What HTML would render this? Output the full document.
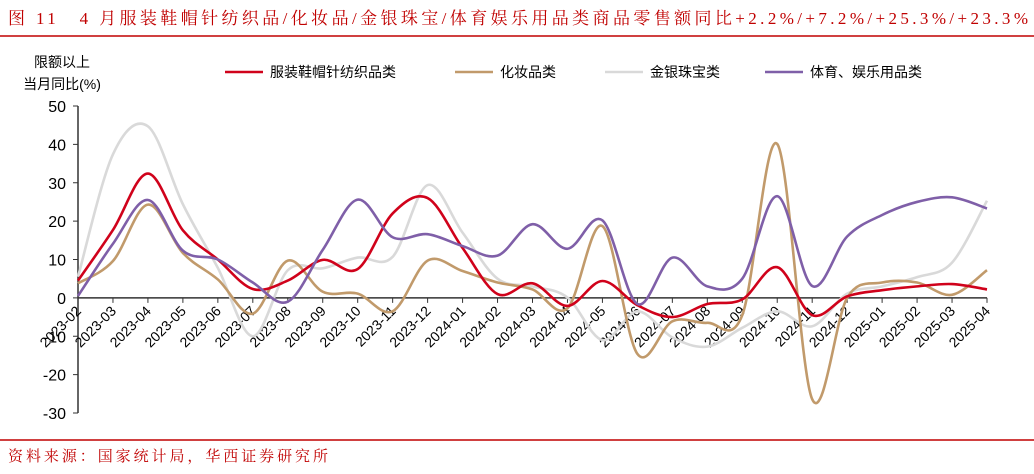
<!DOCTYPE html>
<html><head><meta charset="utf-8"><style>
body{margin:0;background:#fff;}
svg text{font-family:"Liberation Sans","Noto Sans CJK SC",sans-serif;}
svg text.serif{font-family:"Liberation Serif","Noto Serif CJK SC",serif;}
</style></head><body>
<svg id="c" width="1034" height="469" xmlns="http://www.w3.org/2000/svg">
<text class="serif" x="8" y="24" font-size="17" fill="#c00000" textLength="1020" lengthAdjust="spacing">图 11　4 月服装鞋帽针纺织品/化妆品/金银珠宝/体育娱乐用品类商品零售额同比+2.2%/+7.2%/+25.3%/+23.3%</text>
<line x1="0" y1="36" x2="1034" y2="36" stroke="#c00000" stroke-width="1.5"/>
<text x="62" y="67" font-size="14" text-anchor="middle">限额以上</text>
<text x="62" y="89" font-size="14" text-anchor="middle">当月同比(%)</text>
<line x1="0" y1="440" x2="1034" y2="440" stroke="#c00000" stroke-width="1.5"/>
<text class="serif" x="8" y="461" font-size="15" fill="#c00000" textLength="320" lengthAdjust="spacing">资料来源：国家统计局，华西证券研究所</text>
<g id="plot"></g>
</svg>
<script>
const categories=["2023-02","2023-03","2023-04","2023-05","2023-06","2023-07","2023-08","2023-09","2023-10","2023-11","2023-12","2024-01","2024-02","2024-03","2024-04","2024-05","2024-06","2024-07","2024-08","2024-09","2024-10","2024-11","2024-12","2025-01","2025-02","2025-03","2025-04"];
const apparel=[4.5,17.7,32.4,17.6,10,2.3,4.5,9.9,7.5,22,26,13,1,3.8,-2.1,4.4,-1.9,-5,-1.6,-0.4,8,-4.5,0.4,2,3,3.6,2.2];
const cosmetics=[3.8,9.6,24.3,11.7,4.8,-4.1,9.7,1.6,1.1,-3.5,9.7,7,4,2.2,-2.7,18.7,-14.6,-6.1,-6.5,-4.5,40.1,-26.4,0,4,4,0.8,7.2];
const jewelry=[5.5,37.4,44.7,24.4,7.8,-10,7.2,7.7,10.5,10.7,29.4,17,5,3,0.1,-11,-3.5,-10.3,-12.7,-7.8,-3.5,-7.4,1.1,3,5.4,9.2,25.3];
const sports=[0.5,14.1,25.5,12.3,10,4,-1,12.5,25.6,15.8,16.6,13.5,11,19.2,12.8,20.2,-1.6,10.5,3,5,26.5,3.1,16,21.6,25,26.2,23.3];
const yTicks=[50,40,30,20,10,0,-10,-20,-30];
const seriesNames=["服装鞋帽针纺织品类","化妆品类","金银珠宝类","体育、娱乐用品类"];
const NS="http://www.w3.org/2000/svg";
const g=document.getElementById('plot');
const x0=78,x1=987,yTop=106,yBot=413,vMax=50,vMin=-30;
const xS=i=>x0+(x1-x0)*i/(categories.length-1);
const yS=v=>yTop+(vMax-v)*(yBot-yTop)/(vMax-vMin);
function mk(t,a){const e=document.createElementNS(NS,t);for(const k in a)e.setAttribute(k,a[k]);g.appendChild(e);return e;}
let ax=mk('line',{x1:x0,y1:yTop,x2:x0,y2:yBot,stroke:'#333','stroke-width':1.5});


yTicks.forEach(v=>{
 let t=mk('line',{x1:x0-5,y1:yS(v),x2:x0,y2:yS(v),stroke:'#333'});
 
 
 let l=mk('text',{x:x0-12,y:yS(v)+6,'font-size':16,'text-anchor':'end'});l.textContent=v;
 
 
});
let xa=mk('line',{x1:x0,y1:yS(0),x2:x1,y2:yS(0),stroke:'#333','stroke-width':1.5});


categories.forEach((c,i)=>{
 let t=mk('line',{x1:xS(i),y1:yS(0),x2:xS(i),y2:yS(0)+5,stroke:'#333'});
 
 
 let l=mk('text',{x:xS(i)+4,y:yS(0)+14,'font-size':14,'text-anchor':'end',transform:`rotate(-45 ${xS(i)+4} ${yS(0)+14})`});l.textContent=c;
 
 
});
function path(d){const p=d.map((v,i)=>[xS(i),yS(v)]);let s=`M${p[0][0]},${p[0][1]}`;
 for(let i=0;i<p.length-1;i++){const a=p[Math.max(i-1,0)],b=p[i],c=p[i+1],e=p[Math.min(i+2,p.length-1)];
 s+=` C${b[0]+(c[0]-a[0])/6},${b[1]+(c[1]-a[1])/6} ${c[0]-(e[0]-b[0])/6},${c[1]-(e[1]-b[1])/6} ${c[0]},${c[1]}`;}return s;}
const all=[[jewelry,'#d9d9d9','series-jewelry'],[cosmetics,'#c19a6b','series-cosmetics'],[apparel,'#d0021b','series-apparel'],[sports,'#7f5fa8','series-sports']];
all.forEach(([d,col,n])=>{let p=mk('path',{d:path(d),fill:'none',stroke:col,'stroke-width':2.6});
 
 });
const legCols=['#d0021b','#c19a6b','#d9d9d9','#7f5fa8'],legX=[225,455,605,765];
seriesNames.forEach((n,i)=>{
 let l=mk('line',{x1:legX[i],y1:72,x2:legX[i]+38,y2:72,stroke:legCols[i],'stroke-width':2.6});
 
 
 let t=mk('text',{x:legX[i]+45,y:77,'font-size':14});t.textContent=n;
 
 
});
</script>
</body></html>
